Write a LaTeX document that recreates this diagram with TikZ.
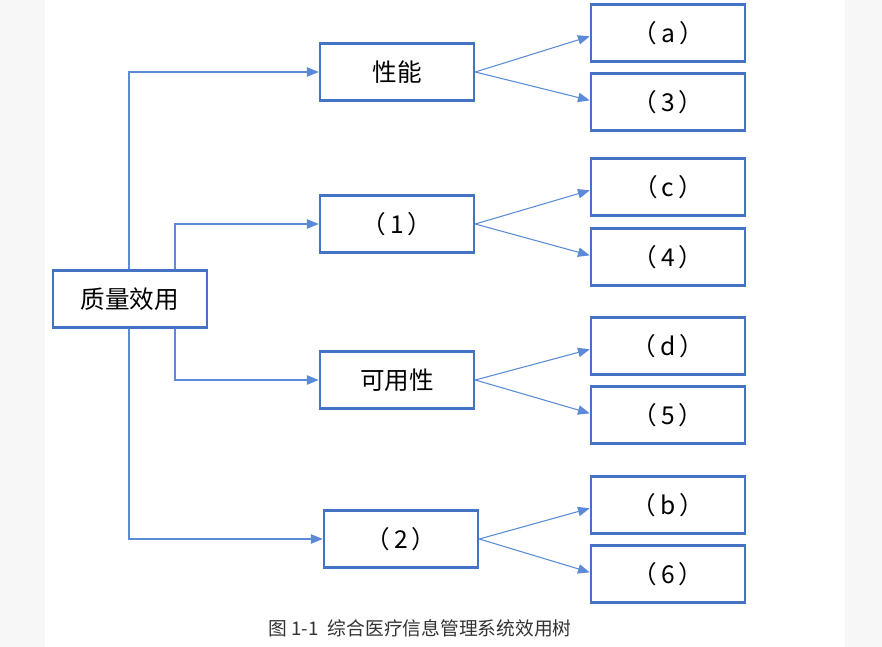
\documentclass[tikz,border=0pt]{standalone}
\usepackage{fontspec}
\setmainfont{Noto Sans CJK SC}
\usetikzlibrary{arrows.meta}
\definecolor{boxblue}{HTML}{4472C4}
\definecolor{lineblue}{HTML}{5B8BD6}

\begin{document}
\begin{tikzpicture}[
		x=0.03cm, y=-0.03cm,
		every node/.style={font=\fontsize{21pt}{24pt}\selectfont},
		box/.style={
				draw=boxblue,
				line width=2.2pt,
				fill=white,
				minimum width=4.62cm,
				minimum height=1.71cm,
				inner sep=0pt
		},
		leaf/.style={box, minimum width=4.62cm},
		arrow/.style={-{Triangle[length=10pt,width=8pt]}, draw=lineblue, line width=0.9pt}
	]

	% background and margins
	\fill[black!3] (0,0) rectangle (882,647);
	\fill[white] (45,0) rectangle (845,647);
	\useasboundingbox (0,0) rectangle (882,647);

	% root and middle level
	\node[box] (root) at (130,299) {质量效用};
	\node[box] (perf) at (397,72) {性能};
	\node[box] (q1)   at (397,224) {（\,1\,）};
	\node[box] (avail) at (397,380) {可用性};
	\node[box] (q2)   at (401,539) {（\,2\,）};

	% leaves
	\node[leaf] (la) at (668,33) {（\,a\,）};
	\node[leaf] (l3) at (668,102) {（\,3\,）};
	\node[leaf] (lc) at (668,187) {（\,c\,）};
	\node[leaf] (l4) at (668,257) {（\,4\,）};
	\node[leaf] (ld) at (668,346) {（\,d\,）};
	\node[leaf] (l5) at (668,415) {（\,5\,）};
	\node[leaf] (lb) at (668,505) {（\,b\,）};
	\node[leaf] (l6) at (668,574) {（\,6\,）};

	% tree connectors
	\draw[arrow] (root.north -| 129,0) |- (perf.west);
	\draw[arrow] (root.north -| 175,0) |- (q1.west);
	\draw[arrow] (root.south -| 175,0) |- (avail.west);
	\draw[arrow] (root.south -| 129,0) |- (q2.west);

	% fan-out to leaves
	\draw[arrow] (perf.east) -- ([yshift=-0.1cm]la.west);
	\draw[arrow] (perf.east) -- ([yshift=0.05cm]l3.west);
	\draw[arrow] (q1.east) -- ([yshift=-0.1cm]lc.west);
	\draw[arrow] (q1.east) -- ([yshift=0.05cm]l4.west);
	\draw[arrow] (avail.east) -- ([yshift=-0.1cm]ld.west);
	\draw[arrow] (avail.east) -- ([yshift=0.05cm]l5.west);
	\draw[arrow] (q2.east) -- ([yshift=-0.1cm]lb.west);
	\draw[arrow] (q2.east) -- ([yshift=0.05cm]l6.west);

	% caption
	\node[font=\fontsize{16pt}{18pt}\selectfont, text=black!80] (cap) at (420,628) {图 1-1\enspace 综合医疗信息管理系统效用树};

\end{tikzpicture}
\end{document}
